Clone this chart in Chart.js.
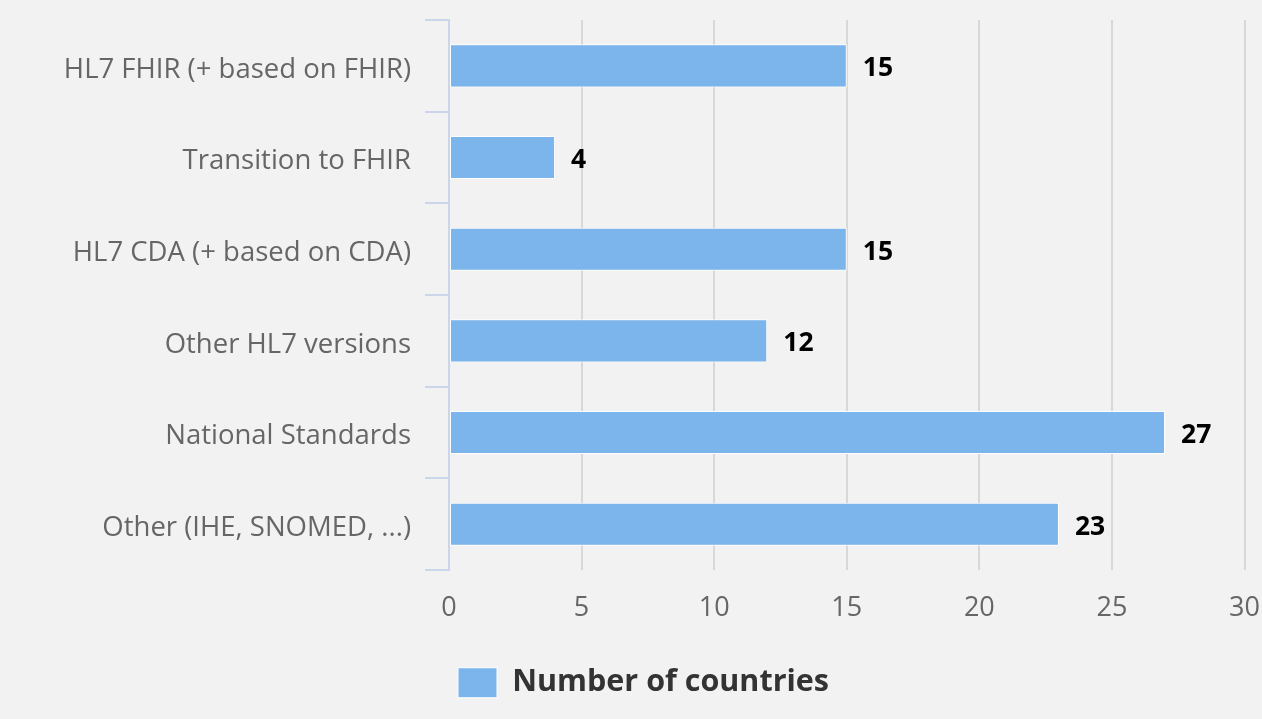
<!DOCTYPE html>
<html>
<head>
<meta charset="utf-8">
<script src="https://cdn.jsdelivr.net/npm/chart.js@4"></script>
<style>
  html, body { margin: 0; padding: 0; background: #f2f2f2; }
  #wrap { width: 1262px; height: 719px; }
</style>
</head>
<body>
<div id="wrap"><canvas id="chart" width="1262" height="719"></canvas></div>
<script>
// categories and values
const categories = [
    'HL7 FHIR (+ based on FHIR)',
    'Transition to FHIR',
    'HL7 CDA (+ based on CDA)',
    'Other HL7 versions',
    'National Standards',
    'Other (IHE, SNOMED, ...)'
];
const countries = [15, 4, 15, 12, 27, 23];
const xTicks = [0, 5, 10, 15, 20, 25, 30];

const FONT = '"Open Sans", "Noto Sans", sans-serif';

// value labels drawn just past the end of each bar
const valueLabels = {
    id: 'valueLabels',
    afterDatasetsDraw(chart) {
        const ctx = chart.ctx;
        const meta = chart.getDatasetMeta(0);
        ctx.save();
        ctx.font = 'bold 26.5px ' + FONT;
        ctx.fillStyle = '#000';
        ctx.textAlign = 'left';
        ctx.textBaseline = 'middle';
        meta.data.forEach((bar, i) => {
            ctx.fillText(String(countries[i]), bar.x + 16, bar.y + 3);
        });
        ctx.restore();
    }
};

// nudge the category labels a few pixels down, like the original layout
const categoryNudge = {
    id: 'categoryNudge',
    beforeDraw(chart) {
        const items = chart.scales.y.getLabelItems();
        if (items._nudged) return;
        items.forEach(it => { it.options.translation[1] += 4; });
        items._nudged = true;
    }
};

const chart = new Chart(document.getElementById('chart'), {
    type: 'bar',
    data: {
        labels: categories,
        datasets: [{
            label: 'Number of countries',
            data: countries,
            backgroundColor: '#7cb5ec',
            borderColor: '#ffffff',
            borderWidth: 1,
            borderSkipped: false,
            categoryPercentage: 1,
            barPercentage: 0.47
        }]
    },
    options: {
        indexAxis: 'y',
        responsive: false,
        animation: false,
        layout: { padding: { top: 20, right: 17, left: 42, bottom: 11 } },
        scales: {
            x: {
                min: 0,
                max: 30,
                afterBuildTicks(scale) {
                    scale.ticks = xTicks.map(v => ({ value: v }));
                },
                grid: {
                    color: '#d8d8d8',
                    lineWidth: 2,
                    drawTicks: true,
                    tickLength: 20,
                    tickColor: 'rgba(0,0,0,0)'
                },
                border: { display: false },
                ticks: {
                    color: '#666',
                    font: { family: FONT, size: 27 },
                    padding: 2
                }
            },
            y: {
                afterFit(scale) { scale.width = 407; },
                grid: {
                    offset: true,
                    drawOnChartArea: false,
                    drawTicks: true,
                    tickLength: 24,
                    color: '#ccd6eb',
                    lineWidth: 2
                },
                border: { display: true, color: '#ccd6eb', width: 2 },
                ticks: {
                    color: '#666',
                    font: { family: FONT, size: 27.5, lineHeight: 0.4 },
                    padding: 14
                }
            }
        },
        plugins: {
            legend: {
                position: 'bottom',
                labels: {
                    boxWidth: 39,
                    boxHeight: 30,
                    color: '#333',
                    padding: 41,
                    font: { family: FONT, size: 30.5, weight: 'bold' }
                }
            },
            tooltip: { enabled: false }
        }
    },
    plugins: [valueLabels, categoryNudge]
});
</script>
</body>
</html>
